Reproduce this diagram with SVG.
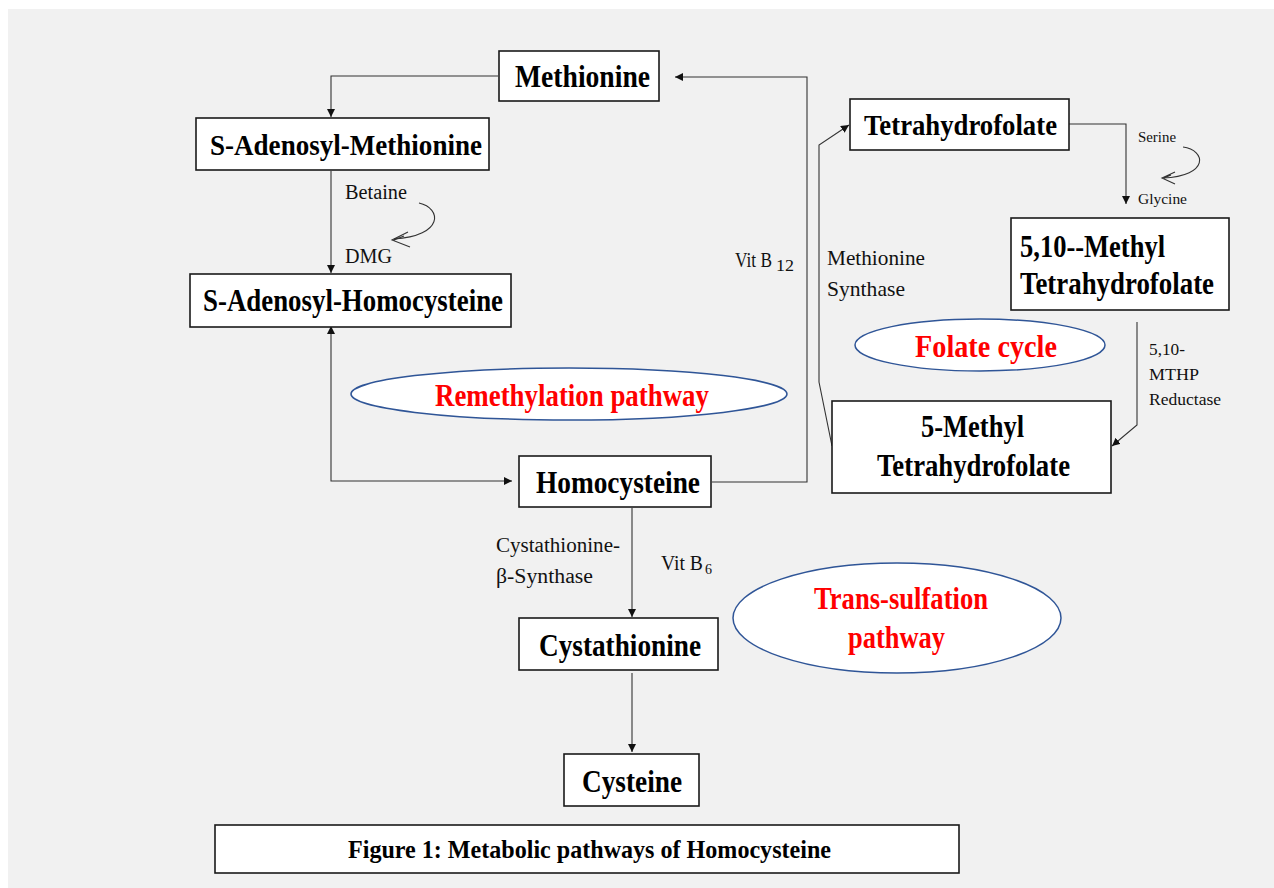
<svg xmlns="http://www.w3.org/2000/svg" width="1274" height="888" viewBox="0 0 1274 888">
<defs>
<marker id="arr" viewBox="0 0 10 10" refX="10" refY="5" markerWidth="8" markerHeight="8" markerUnits="userSpaceOnUse" orient="auto-start-reverse">
<path d="M0,0 L10,5 L0,10 Z" fill="#111"/>
</marker>
<style>
.box{fill:#fff;stroke:#1a1a1a;stroke-width:1.6}
.nt{font-family:"Liberation Serif","Times New Roman",serif;font-weight:bold;fill:#000}
.lb{font-family:"Liberation Serif","Times New Roman",serif;fill:#111}
.red{font-family:"Liberation Serif","Times New Roman",serif;font-weight:bold;fill:#ff0000}
.ell{fill:#fff;stroke:#2f5597;stroke-width:1.5}
.cn{fill:none;stroke:#333;stroke-width:1.1}
</style>
</defs>
<rect x="0" y="0" width="1274" height="888" fill="#fff"/>
<rect x="8" y="9" width="1266" height="879" fill="#f1f1f1"/>

<g id="connectors">
<path class="cn" d="M498,76 H331 V117" marker-end="url(#arr)"/>
<path class="cn" d="M331,171 V273" marker-end="url(#arr)"/>
<path class="cn" d="M331,326 V481 H512" marker-start="url(#arr)" marker-end="url(#arr)"/>
<path class="cn" d="M712,482 H807 V77 H675" marker-end="url(#arr)"/>
<path class="cn" d="M832,446 L819,382 V145 L849,125" marker-end="url(#arr)"/>
<path class="cn" d="M1069,124 H1126 V204" marker-end="url(#arr)"/>
<path class="cn" d="M1137,322 V425 L1112,446" marker-end="url(#arr)"/>
<path class="cn" d="M632,508 V617" marker-end="url(#arr)"/>
<path class="cn" d="M632,673 V752" marker-end="url(#arr)"/>
<path class="cn" d="M419,203 C442,208 444,236 394,239" stroke="#111" stroke-width="1.3"/>
<path class="cn" d="M408,232 L392,240 L410,247 M404,236 L394,240" stroke="#111" stroke-width="1.2"/>
<path class="cn" d="M1183,147 C1206,150 1210,176 1163,178" stroke="#111" stroke-width="1.2"/>
<path class="cn" d="M1175,172 L1162,178 L1175,184 M1171,175 L1164,178" stroke="#111" stroke-width="1.1"/>
</g>

<g id="methionine">
<rect class="box" x="499" y="51" width="160" height="50"/>
<text class="nt" x="515" y="87" font-size="32" textLength="135" lengthAdjust="spacingAndGlyphs">Methionine</text>
</g>
<g id="sam">
<rect class="box" x="196" y="118" width="293" height="52"/>
<text class="nt" x="210" y="155" font-size="29" textLength="272" lengthAdjust="spacingAndGlyphs">S-Adenosyl-Methionine</text>
</g>
<g id="betaine-labels">
<text class="lb" x="345" y="199" font-size="20" textLength="62" lengthAdjust="spacingAndGlyphs">Betaine</text>
<text class="lb" x="345" y="263" font-size="20" textLength="47" lengthAdjust="spacingAndGlyphs">DMG</text>
</g>
<g id="sah">
<rect class="box" x="190" y="274" width="321" height="53"/>
<text class="nt" x="203" y="311" font-size="31" textLength="300" lengthAdjust="spacingAndGlyphs">S-Adenosyl-Homocysteine</text>
</g>
<g id="remethylation">
<ellipse class="ell" cx="569" cy="394" rx="218" ry="26"/>
<text class="red" x="435" y="406" font-size="31" textLength="274" lengthAdjust="spacingAndGlyphs">Remethylation pathway</text>
</g>
<g id="homocysteine">
<rect class="box" x="519" y="456" width="192" height="51"/>
<text class="nt" x="536" y="493" font-size="31" textLength="164" lengthAdjust="spacingAndGlyphs">Homocysteine</text>
</g>
<g id="vitb12">
<text class="lb" x="735" y="267" font-size="20" textLength="37" lengthAdjust="spacingAndGlyphs">Vit B</text>
<text class="lb" x="776" y="271" font-size="16" textLength="18" lengthAdjust="spacingAndGlyphs">12</text>
</g>
<g id="ms-label">
<text class="lb" x="827" y="265" font-size="21" textLength="98" lengthAdjust="spacingAndGlyphs">Methionine</text>
<text class="lb" x="827" y="296" font-size="21" textLength="78" lengthAdjust="spacingAndGlyphs">Synthase</text>
</g>
<g id="thf">
<rect class="box" x="850" y="99" width="219" height="51"/>
<text class="nt" x="864" y="135" font-size="30" textLength="193" lengthAdjust="spacingAndGlyphs">Tetrahydrofolate</text>
</g>
<g id="serine-labels">
<text class="lb" x="1138" y="142" font-size="14" textLength="38" lengthAdjust="spacingAndGlyphs">Serine</text>
<text class="lb" x="1138" y="204" font-size="14" textLength="49" lengthAdjust="spacingAndGlyphs">Glycine</text>
</g>
<g id="mthf510">
<rect class="box" x="1011" y="218" width="218" height="92"/>
<text class="nt" x="1020" y="257" font-size="31" textLength="145" lengthAdjust="spacingAndGlyphs">5,10--Methyl</text>
<text class="nt" x="1020" y="294" font-size="31" textLength="194" lengthAdjust="spacingAndGlyphs">Tetrahydrofolate</text>
</g>
<g id="folate">
<ellipse class="ell" cx="980" cy="345" rx="125" ry="26"/>
<text class="red" x="915" y="357" font-size="32" textLength="142" lengthAdjust="spacingAndGlyphs">Folate cycle</text>
</g>
<g id="mthpr-label">
<text class="lb" x="1149" y="355" font-size="17" textLength="36" lengthAdjust="spacingAndGlyphs">5,10-</text>
<text class="lb" x="1149" y="380" font-size="17" textLength="50" lengthAdjust="spacingAndGlyphs">MTHP</text>
<text class="lb" x="1149" y="405" font-size="17" textLength="72" lengthAdjust="spacingAndGlyphs">Reductase</text>
</g>
<g id="mthf5">
<rect class="box" x="832" y="401" width="279" height="92"/>
<text class="nt" x="921" y="437" font-size="31" textLength="103" lengthAdjust="spacingAndGlyphs">5-Methyl</text>
<text class="nt" x="877" y="476" font-size="31" textLength="193" lengthAdjust="spacingAndGlyphs">Tetrahydrofolate</text>
</g>
<g id="cbs-label">
<text class="lb" x="496" y="552" font-size="20" textLength="124" lengthAdjust="spacingAndGlyphs">Cystathionine-</text>
<text class="lb" x="496" y="583" font-size="20" textLength="97" lengthAdjust="spacingAndGlyphs">β-Synthase</text>
</g>
<g id="vitb6">
<text class="lb" x="661" y="570" font-size="20" textLength="42" lengthAdjust="spacingAndGlyphs">Vit B</text>
<text class="lb" x="705" y="574" font-size="15" textLength="7" lengthAdjust="spacingAndGlyphs">6</text>
</g>
<g id="transsulfation">
<ellipse class="ell" cx="897" cy="618" rx="164" ry="55"/>
<text class="red" x="814" y="609" font-size="32" textLength="174" lengthAdjust="spacingAndGlyphs">Trans-sulfation</text>
<text class="red" x="848" y="648" font-size="32" textLength="97" lengthAdjust="spacingAndGlyphs">pathway</text>
</g>
<g id="cystathionine">
<rect class="box" x="519" y="618" width="199" height="52"/>
<text class="nt" x="539" y="656" font-size="31" textLength="162" lengthAdjust="spacingAndGlyphs">Cystathionine</text>
</g>
<g id="cysteine">
<rect class="box" x="564" y="754" width="135" height="52"/>
<text class="nt" x="582" y="792" font-size="31" textLength="100" lengthAdjust="spacingAndGlyphs">Cysteine</text>
</g>
<g id="caption">
<rect class="box" x="215" y="825" width="744" height="48"/>
<text class="nt" x="348" y="858" font-size="26" textLength="483" lengthAdjust="spacingAndGlyphs">Figure 1: Metabolic pathways of Homocysteine</text>
</g>
</svg>
